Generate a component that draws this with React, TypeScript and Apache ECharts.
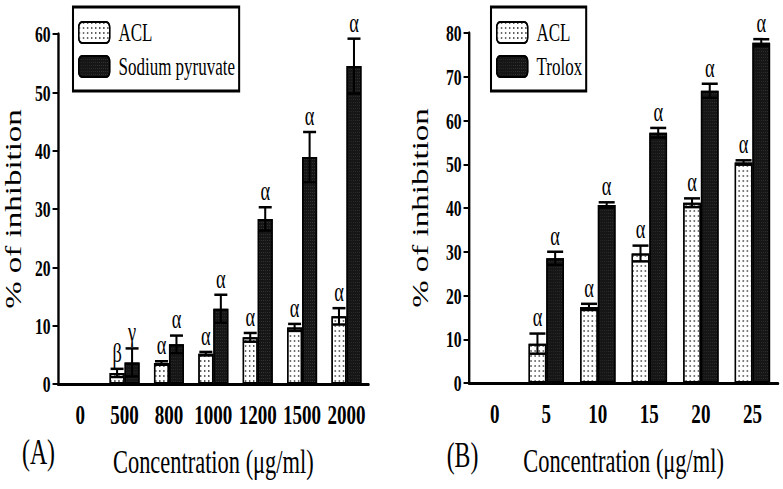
import React, { useEffect, useRef } from "react";
import * as echarts from "echarts";

// horizontal condensation of the reference figure
const S = 0.68;
const W = 783 / S;
const H = 489;
const X = (v: number) => v / S;
const SERIF = '"Liberation Serif", "Times New Roman", serif';

// Panel A
const catsA = ["0", "500", "800", "1000", "1200", "1500", "2000"];
const aclA = [0, 1.9, 3.6, 5.2, 8.0, 9.7, 11.6];
const aclAErr = [0, 0.7, 0.3, 0.3, 0.75, 0.6, 1.4];
const aclALetters = ["", "β", "α", "α", "α", "α", "α"];
const pyrA = [0, 3.7, 6.8, 12.9, 28.3, 38.9, 54.5];
const pyrAErr = [0, 2.4, 1.5, 2.4, 2.0, 4.3, 4.7];
const pyrALetters = ["", "γ", "α", "α", "α", "α", "α"];

// Panel B
const catsB = ["0", "5", "10", "15", "20", "25"];
const aclB = [0, 9.0, 17.4, 29.6, 41.2, 50.4];
const aclBErr = [0, 2.3, 0.7, 1.8, 1.0, 0.5];
const aclBLetters = ["", "α", "α", "α", "α", "α"];
const trolB = [0, 28.5, 40.7, 57.2, 66.8, 77.8];
const trolBErr = [0, 1.5, 0.6, 1.1, 1.6, 0.8];
const trolBLetters = ["", "α", "α", "α", "α", "α"];

const yTicksA = { min: 0, max: 60, interval: 10 };
const yTicksB = { min: 0, max: 80, interval: 10 };

const aclStyle = {
  color: "#ffffff",
  borderColor: "#000",
  borderWidth: 2,
  decal: {
    symbol: "rect",
    symbolSize: 1,
    color: "#555555",
    dashArrayX: [1.2, 3.8],
    dashArrayY: [1.2, 3],
  },
};
const darkStyle = {
  color: "#161616",
  borderColor: "#000",
  borderWidth: 2,
  decal: {
    symbol: "rect",
    symbolSize: 1,
    color: "rgba(255,255,255,0.13)",
    dashArrayX: [1, 2],
    dashArrayY: [1, 2],
  },
};

function errSeries(
  values: number[],
  errs: number[],
  letters: string[],
  axis: number,
  offset: number,
  capHalf: number
) {
  return {
    type: "custom",
    xAxisIndex: axis,
    yAxisIndex: axis,
    silent: true,
    z: 10,
    data: values.map((v, i) => [i, v, errs[i]]),
    renderItem: (params: any, api: any) => {
      const i = api.value(0);
      const v = api.value(1);
      const e = api.value(2);
      if (!v) return null;
      const top = api.coord([i, v + e]);
      const bot = api.coord([i, v - e]);
      const x = top[0] + offset;
      const letter = letters[params.dataIndex];
      return {
        type: "group",
        children: [
          {
            type: "line",
            shape: { x1: x, y1: top[1], x2: x, y2: bot[1] },
            style: { stroke: "#000", lineWidth: 3 },
          },
          {
            type: "line",
            shape: { x1: x - capHalf, y1: top[1], x2: x + capHalf, y2: top[1] },
            style: { stroke: "#000", lineWidth: 2.5 },
          },
          {
            type: "line",
            shape: { x1: x - capHalf, y1: bot[1], x2: x + capHalf, y2: bot[1] },
            style: { stroke: "#000", lineWidth: 2.5 },
          },
          {
            type: "text",
            x: x,
            y: top[1] - 3,
            style: {
              text: letter,
              fill: "#000",
              fontFamily: SERIF,
              fontSize: 27,
              align: "center",
              verticalAlign: "bottom",
            },
          },
        ],
      };
    },
  };
}

function xAxisCfg(grid: number, cats: string[]) {
  return {
    type: "category",
    gridIndex: grid,
    data: cats,
    axisLine: { lineStyle: { color: "#000", width: 3 } },
    axisTick: { show: false },
    axisLabel: {
      interval: 0,
      color: "#000",
      fontFamily: SERIF,
      fontWeight: "bold",
      fontSize: 28,
      margin: 17,
    },
    name: "Concentration (μg/ml)",
    nameLocation: "middle",
    nameGap: 61,
    nameTextStyle: { color: "#000", fontFamily: SERIF, fontSize: 33 },
  };
}

function yAxisCfg(grid: number, t: { min: number; max: number; interval: number }, gap: number) {
  return {
    type: "value",
    gridIndex: grid,
    min: t.min,
    max: t.max,
    interval: t.interval,
    axisLine: { show: true, lineStyle: { color: "#000", width: 3.5 } },
    axisTick: { show: true, length: 8, lineStyle: { color: "#000", width: 2 } },
    axisLabel: {
      color: "#000",
      fontFamily: SERIF,
      fontWeight: "bold",
      fontSize: 23,
      margin: 11,
    },
    splitLine: { show: false },
    name: "% of inhibition",
    nameLocation: "middle",
    nameRotate: 90,
    nameGap: gap,
    nameTextStyle: { color: "#000", fontFamily: SERIF, fontSize: 33 },
  };
}

function legendCfg(names: string[], left: number) {
  return {
    data: names,
    orient: "vertical",
    left: left,
    top: 7,
    padding: [13, X(4), 12, X(5)],
    itemWidth: X(31),
    itemHeight: 21,
    itemGap: 9,
    borderColor: "#000",
    borderWidth: 3,
    selectedMode: false,
    textStyle: {
      color: "#000",
      fontFamily: SERIF,
      fontSize: 25,
      lineHeight: 25,
      padding: [0, 0, 0, 8],
    },
  };
}

export default function App() {
  const ref = useRef<HTMLDivElement>(null);
  useEffect(() => {
    if (!ref.current) return;
    const chart = echarts.init(ref.current, undefined, { renderer: "svg" });
    chart.setOption({
      animation: false,
      backgroundColor: "#fff",
      grid: [
        { left: X(58), right: W - X(369), top: 34, bottom: H - 384 },
        { left: X(469), right: W - X(778.5), top: 33, bottom: H - 383 },
      ],
      xAxis: [xAxisCfg(0, catsA), xAxisCfg(1, catsB)],
      yAxis: [yAxisCfg(0, yTicksA, 49), yAxisCfg(1, yTicksB, 55)],
      legend: [
        legendCfg(["ACL", "Sodium pyruvate"], X(73)),
        legendCfg(["ACL", "Trolox"], X(491)),
      ],
      series: [
        { type: "bar", name: "ACL", xAxisIndex: 0, yAxisIndex: 0, data: aclA, barWidth: X(15), barGap: "0%", itemStyle: aclStyle },
        { type: "bar", name: "Sodium pyruvate", xAxisIndex: 0, yAxisIndex: 0, data: pyrA, barWidth: X(15), barGap: "0%", itemStyle: darkStyle },
        { type: "bar", name: "ACL", xAxisIndex: 1, yAxisIndex: 1, data: aclB, barWidth: X(17.7), barGap: "0%", itemStyle: aclStyle },
        { type: "bar", name: "Trolox", xAxisIndex: 1, yAxisIndex: 1, data: trolB, barWidth: X(17.7), barGap: "0%", itemStyle: darkStyle },
        errSeries(aclA, aclAErr, aclALetters, 0, -X(15) / 2, X(6.5)),
        errSeries(pyrA, pyrAErr, pyrALetters, 0, X(15) / 2, X(6.5)),
        errSeries(aclB, aclBErr, aclBLetters, 1, -X(17.7) / 2, X(8)),
        errSeries(trolB, trolBErr, trolBLetters, 1, X(17.7) / 2, X(8)),
      ],
      graphic: [
        {
          type: "text",
          x: X(38.5),
          y: 452,
          style: { text: "(A)", fill: "#000", fontFamily: SERIF, fontSize: 35, align: "center", verticalAlign: "middle" },
        },
        {
          type: "text",
          x: X(462.5),
          y: 455,
          style: { text: "(B)", fill: "#000", fontFamily: SERIF, fontSize: 35, align: "center", verticalAlign: "middle" },
        },
      ],
    } as any);
    return () => chart.dispose();
  }, []);
  return (
    <div
      style={{
        position: "fixed",
        left: 0,
        top: 0,
        width: 783,
        height: H,
        overflow: "hidden",
        background: "#fff",
      }}
    >
      <div
        ref={ref}
        style={{
          width: W,
          height: H,
          transform: `scaleX(${S})`,
          transformOrigin: "0 0",
        }}
      />
    </div>
  );
}
